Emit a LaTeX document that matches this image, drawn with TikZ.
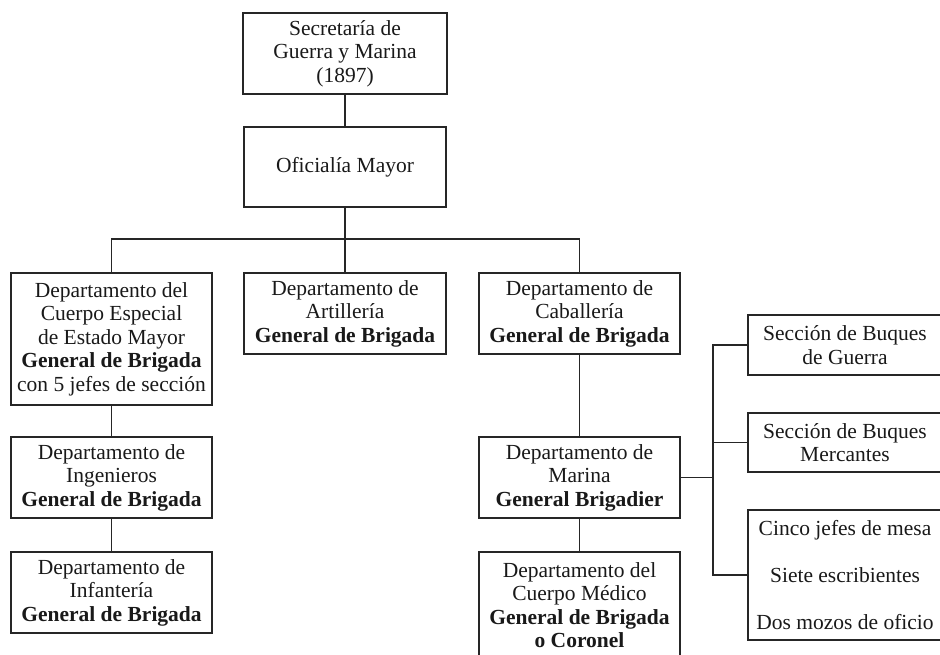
\documentclass[tikz,border=0pt]{standalone}
\usepackage{fontspec}
\setmainfont{Liberation Serif}
\begin{document}
\begin{tikzpicture}[x=1pt, y=-1pt,
    orgBox/.style={rectangle, draw=black!85, line width=1.3pt, text=black!90, align=center, inner sep=1pt, minimum width=201pt, font=\fontsize{21.5}{23.5}\selectfont},
    orgLine/.style={draw=black!85, line width=1.3pt}]
	\clip (0,0) rectangle (940,654);

	% top of the chart
	\node[orgBox, minimum width=204pt, minimum height=81pt](secBox) at (345,53.5){Secretaría de\\Guerra y Marina\\(1897)};
	\node[orgBox, minimum width=202pt, minimum height=80pt](ofiBox) at (345,167){Oficialía Mayor};

	% departments
	\node[orgBox, minimum height=132pt](estBox) at (111.5,339){Departamento del\\Cuerpo Especial\\de Estado Mayor\\\textbf{General de Brigada}\\con 5 jefes de sección};
	\node[orgBox, minimum width=202pt, minimum height=81pt](artBox) at (345,313.5){Departamento de\\Artillería\\\textbf{General de Brigada}};
	\node[orgBox, minimum height=81pt](cabBox) at (579.5,313.5){Departamento de\\Caballería\\\textbf{General de Brigada}};
	\node[orgBox, minimum height=81pt](ingBox) at (111.5,477.5){Departamento de\\Ingenieros\\\textbf{General de Brigada}};
	\node[orgBox, minimum height=81pt](infBox) at (111.5,592.5){Departamento de\\Infantería\\\textbf{General de Brigada}};
	\node[orgBox, minimum height=81pt](marBox) at (579.5,477.5){Departamento de\\Marina\\\textbf{General Brigadier}};
	\node[orgBox, minimum height=106pt](medBox) at (579.5,605){Departamento del\\Cuerpo Médico\\\textbf{General de Brigada}\\\textbf{o Coronel}};

	% sections of the navy department
	\node[orgBox, minimum width=194pt, minimum height=60pt](guerraBox) at (845,345){Sección de Buques\\de Guerra};
	\node[orgBox, minimum width=194pt, minimum height=59pt](mercBox)   at (845,442.5){Sección de Buques\\Mercantes};
	\node[orgBox, minimum width=194pt, minimum height=130pt](staffBox) at (845,575){Cinco jefes de mesa\\[23.5pt]Siete escribientes\\[23.5pt]Dos mozos de oficio};

	\coordinate (bus) at (345,239);
	\coordinate (brk) at (713,477.5);

	\draw[orgLine] (secBox) -- (ofiBox);
	\draw[orgLine] (ofiBox) -- (artBox);
	\draw[orgLine] (estBox.north) |- (bus) -| (cabBox.north);
	\draw[orgLine] (estBox) -- (ingBox);
	\draw[orgLine] (ingBox) -- (infBox);
	\draw[orgLine] (cabBox) -- (marBox);
	\draw[orgLine] (marBox) -- (medBox);
	\draw[orgLine] (marBox.east) -- (brk);
	\draw[orgLine] (guerraBox.west) -| (brk) |- (staffBox.west);
	\draw[orgLine] (mercBox.west) -- (brk |- mercBox.west);
\end{tikzpicture}
\end{document}
